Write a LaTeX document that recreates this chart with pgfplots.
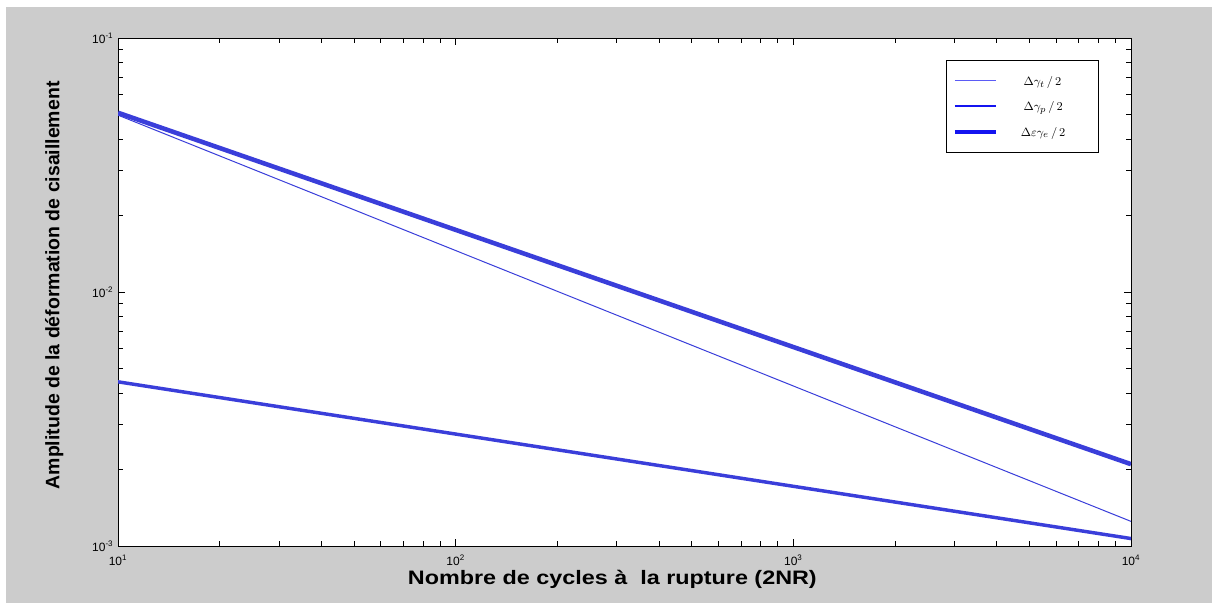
\documentclass[border=0pt]{standalone}
\usepackage{fontspec}
\setmainfont{Liberation Sans}
\usepackage{graphicx}
\usepackage{pgfplots}
\pgfplotsset{compat=1.18}
\definecolor{figgray}{RGB}{204,204,204}
\definecolor{lineblue}{RGB}{58,62,218}
\definecolor{legblue}{RGB}{20,20,240}
\begin{document}
\begin{tikzpicture}
\useasboundingbox[fill=white] (0,0) rectangle (909pt,452.25pt);
\fill[figgray] (4.5pt,0) rectangle (909pt,447pt);
\begin{axis}[
  at={(88.5pt,42.75pt)}, anchor=south west,
  scale only axis, width=759.75pt, height=381pt,
  xmode=log, ymode=log,
  xmin=10, xmax=10000, ymin=1e-3, ymax=1e-1,
  axis background/.style={fill=white},
  tick align=inside,
  major tick length=5.25pt, minor tick length=3.75pt,
  every tick/.style={black, line width=0.6pt},
  axis line style={line width=0.75pt},
  xtick={10,100,1000,10000},
  xticklabels={10\textsuperscript{1},10\textsuperscript{2},10\textsuperscript{3},10\textsuperscript{4}},
  minor xtick={20,30,40,50,60,70,80,90,200,300,400,500,600,700,800,900,2000,3000,4000,5000,6000,7000,8000,9000},
  ytick={0.001,0.01,0.1},
  yticklabels={10\textsuperscript{-3},10\textsuperscript{-2},10\textsuperscript{-1}},
  minor ytick={0.002,0.003,0.004,0.005,0.006,0.007,0.008,0.009,0.02,0.03,0.04,0.05,0.06,0.07,0.08,0.09},
  tick label style={font=\fontsize{9}{10}\selectfont},
  xticklabel style={yshift=-3pt},
  xlabel={\scalebox{1.2}[1]{Nombre de cycles à\ \ la rupture (2NR)}},
  ylabel={Amplitude de la déformation de cisaillement},
  label style={font=\fontsize{14.6}{16}\selectfont\bfseries},
  xlabel style={at={(axis description cs:0.488,-0.065)}, anchor=center},
  ylabel style={at={(axis description cs:-0.063,0.513)}, anchor=center},
  legend style={at={(rel axis cs:0.968,0.957)}, anchor=north east,
    draw=black, line width=0.6pt, fill=white,
    font=\fontsize{9.5}{11}\selectfont,
    inner xsep=5pt, inner ysep=7pt, row sep=2pt,
    nodes={inner xsep=3pt, text height=10pt, text depth=3pt}},
  legend cell align=left,
  legend image code/.code={\draw[#1] (0pt,0pt) -- (31pt,0pt);},
]
\addplot[lineblue, line width=0.75pt, forget plot] coordinates {(10,0.0497) (10000,0.00125)};
\addplot[lineblue, line width=3.4pt, forget plot] coordinates {(10,0.0508) (10000,0.00210)};
\addplot[lineblue, line width=2.6pt, forget plot] coordinates {(10,0.00443) (10000,0.00107)};
\addlegendimage{legblue!70!white, line width=0.7pt}
\addlegendentry{\makebox[64pt][l]{\hspace{16pt}$\Delta\gamma_t\,/\,2$}}
\addlegendimage{legblue, line width=1.5pt}
\addlegendentry{\makebox[64pt][l]{\hspace{16pt}$\Delta\gamma_p\,/\,2$}}
\addlegendimage{legblue, line width=3pt}
\addlegendentry{\makebox[64pt][l]{\hspace{14pt}$\Delta\varepsilon\gamma_e\,/\,2$}}
\end{axis}
\end{tikzpicture}
\end{document}
